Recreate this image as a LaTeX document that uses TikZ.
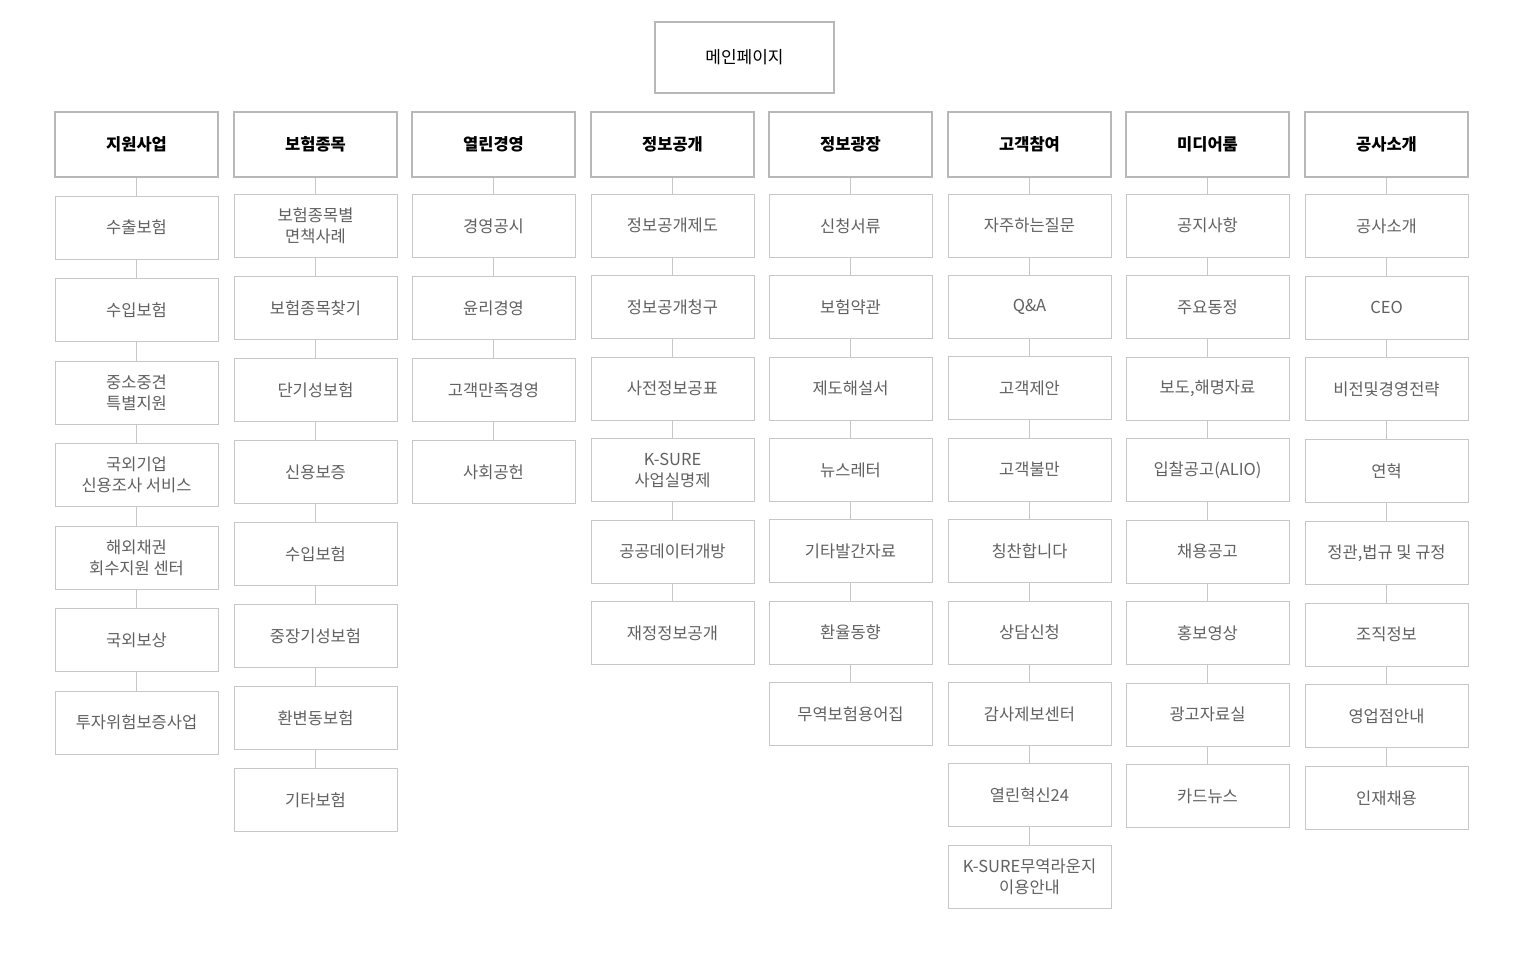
\documentclass[tikz,border=0pt]{standalone}
\usepackage{fontspec}
\setmainfont{Noto Sans CJK KR}
\usepackage{tikz}
\usetikzlibrary{positioning}

\begin{document}
\begin{tikzpicture}[x=1pt,y=-1pt]

\tikzset{
  menu/.style={draw=black!28, line width=1.6pt, fill=white,
    minimum width=163pt, minimum height=65pt, inner sep=0pt,
    font=\fontsize{16.5}{19}\selectfont\bfseries},
  item/.style={draw=black!22, line width=1pt, fill=white,
    minimum width=163pt, minimum height=63pt, inner sep=0pt,
    align=center, text=black!62, font=\fontsize{16.5}{21}\selectfont},
  link/.style={draw=black!22, line width=1pt}
}
\useasboundingbox (0,0) rectangle (1518,953);

\node[menu, minimum width=179pt, minimum height=71pt,
  font=\fontsize{17}{19}\selectfont] (main) at (744.5,57.5) {메인페이지};

% x / first row / pitch / header / items
\foreach \x/\y/\d/\head/\items [count=\c] in {
  136.5/227.5/82.5/지원사업/{수출보험,수입보험,{중소중견\\특별지원},{국외기업\\신용조사 서비스},{해외채권\\회수지원 센터},국외보상,투자위험보증사업},
  315.5/226/82/보험종목/{{보험종목별\\면책사례},보험종목찾기,단기성보험,신용보증,수입보험,중장기성보험,환변동보험,기타보험},
  493.5/226/82/열린경영/{경영공시,윤리경영,고객만족경영,사회공헌},
  672.5/225.5/81.5/정보공개/{정보공개제도,정보공개청구,사전정보공표,{K-SURE\\사업실명제},공공데이터개방,재정정보공개},
  850.5/226/81.3/정보광장/{신청서류,보험약관,제도해설서,뉴스레터,기타발간자료,환율동향,무역보험용어집},
  1029.5/225.5/81.4/고객참여/{자주하는질문,Q\&A,고객제안,고객불만,칭찬합니다,상담신청,감사제보센터,열린혁신24,{K-SURE무역라운지\\이용안내}},
  1207.5/225.5/81.5/미디어룸/{공지사항,주요동정,{보도,해명자료},입찰공고(ALIO),채용공고,홍보영상,광고자료실,카드뉴스},
  1386.5/226/81.7/공사소개/{공사소개,CEO,비전및경영전략,연혁,{정관,법규 및 규정},조직정보,영업점안내,인재채용}}{
  \node[menu] (c\c-0) at (\x,144.5) {\head};
  \foreach \t [count=\i, remember=\i as \p (initially 0)] in \items {
    \node[item] (c\c-\i) at (\x,{\y+\d*(\i-1)}) {\t};
    \draw[link] (c\c-\p) -- (c\c-\i);
  }
}

\end{tikzpicture}
\end{document}
